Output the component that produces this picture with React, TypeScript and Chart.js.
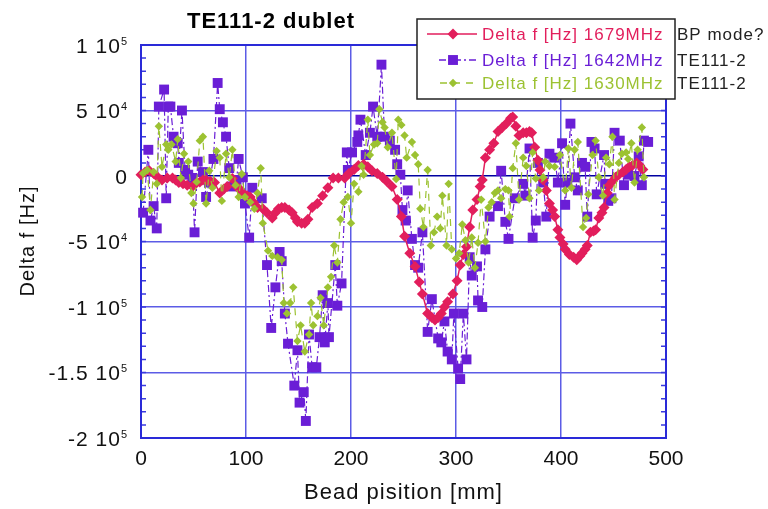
import React, { useEffect, useRef } from 'react';
import { Chart, registerables } from 'chart.js';

Chart.register(...registerables);

const FONT = '"Liberation Sans", Arial, Helvetica, sans-serif';

// tick values / labels
const xTickValues = [0, 100, 200, 300, 400, 500];
const yTickValues = [100000, 50000, 0, -50000, -100000, -150000, -200000];
const yTickMantissa = ['1 10', '5 10', '0', '-5 10', '-1 10', '-1.5 10', '-2 10'];
const yTickExponent = ['5', '4', '', '4', '5', '5', '5'];

const titleText = 'TE111-2 dublet';
const xAxisTitle = 'Bead pisition [mm]';
const yAxisTitle = 'Delta f [Hz]';

const seriesLabels = ['Delta f [Hz] 1679MHz', 'Delta f [Hz] 1642MHz', 'Delta f [Hz] 1630MHz'];
const seriesNotes = ['BP mode?', 'TE111-2', 'TE111-2'];
const seriesColors = ['#e21e5c', '#6a1ed6', '#9cc232'];

// values in kHz (i.e. 1e3 Hz), positions in mm
const redPos = [0, 4, 8, 12, 16, 20, 25, 30, 33, 36, 40, 44, 49, 52, 56, 59, 62, 66, 70, 75, 79, 82, 87, 91, 94, 97, 101, 104, 107, 111, 116, 120, 125, 128, 131, 134, 137, 141, 144, 147, 149, 153, 156, 159, 163, 168, 173, 178, 183, 188, 194, 198, 203, 207, 212, 216, 220, 225, 230, 234, 239, 244, 248, 251, 256, 261, 265, 268, 273, 277, 280, 283, 286, 289, 292, 297, 301, 304, 307, 310, 313, 316, 320, 323, 325, 328, 332, 336, 340, 344, 348, 352, 354, 357, 360, 364, 367, 370, 372, 375, 378, 380, 383, 386, 389, 392, 394, 397, 399, 402, 404, 408, 412, 415, 418, 420, 423, 425, 428, 431, 433, 436, 439, 441, 444, 446, 449, 452, 455, 459, 462, 465, 468, 472, 475, 478];
const redVal = [1, 3, 4, 2, -1, -3, -1.5, -1.5, -3, -5, -6, -7, -8, -6, -4.5, -3, -3, -4, -5, -13, -10, -8, -2, -8, -10, -13, -15, -16, -20, -24, -25, -28, -32, -28, -25, -24, -24, -26, -28, -32, -35, -36, -36, -33, -24, -21, -15, -9, -1.5, -1.5, -1.5, 2, 5, 8, 9, 7, 4, 2, -1, -4, -8, -18, -31, -46, -59, -69, -81, -90, -105, -108, -110, -108, -105, -100, -96, -90, -80, -68, -60, -54, -39, -26, -18, -8, -3, 14, 20, 25, 34, 37, 40, 44, 45, 38, 31, 33, 33, 34, 33, 22, 12, 4.6, -3, -11, -21, -26, -31, -41, -47, -52, -56, -60, -62, -64, -61, -59, -56, -53, -43, -42, -41, -32, -28, -24, -13, -7, -4, -1, 1, 3, 5, 7, 8, 10, 8, 5];

const purplePos = [2, 7, 9, 12, 15, 17, 22, 24, 26, 28, 31, 35, 36, 39, 42, 45, 49, 51, 54, 59, 62, 65, 69, 73, 75, 78, 81, 84, 87, 91, 93, 97, 99, 103, 106, 115, 120, 124, 128, 132, 134, 137, 140, 146, 149, 151, 155, 157, 160, 163, 167, 170, 173, 175, 178, 179, 185, 187, 191, 196, 197, 201, 206, 207, 209, 214, 218, 221, 225, 229, 232, 237, 242, 244, 247, 249, 252, 254, 258, 261, 264, 268, 273, 277, 283, 286, 289, 292, 296, 298, 302, 304, 307, 310, 313, 315, 320, 321, 325, 328, 332, 340, 343, 347, 350, 356, 364, 366, 370, 373, 376, 378, 383, 386, 389, 394, 397, 401, 404, 406, 409, 413, 416, 420, 423, 425, 429, 432, 434, 441, 442, 445, 448, 451, 456, 460, 464, 470, 474, 477, 479, 483];
const purpleVal = [-28, 20, -34, -23, -40, 53, 66, -17, 53, 53, 30, 25, 10, 50, 4.6, 1, -1.5, -43, 11, 3, -16, -5, 13, 71, 51, 41, 30, 6, -8, -3, 13, -1, -21, -47, -9, -17, -68, -116, -85, -58, -65, -105, -128, -160, -133, -173, -165, -187, -121, -146, -146, -123, -91, -127, -97, -123, -68, -99, -82, 18, 4.6, 18, 26, 31, 43, 16, 33, 53, 30, 85, 30, 27, 20, 9, 1, -26, -34, -11, -48, -68, -70, -43, -119, -94, -124, -127, -111, -134, -140, -105, -147, -155, -105, -140, -62, -76, -69, -95, -100, -56, -31, -23, 4, -35, -48, -17, -6, -15, 21, -47, -34, 10, -5, -31, 17, 14, -5, 25, -22, -5, 40, -1, -11, 10, 7, -31, 26, 21, -14, 16, -6, -19, -17, 33, 27, -7, 1, 0, 15, -7, 27, 26];

const greenPos = [1, 2, 6, 9, 12, 15, 17, 20, 24, 26, 29, 33, 35, 38, 41, 45, 48, 50, 53, 56, 59, 62, 65, 68, 72, 75, 77, 81, 84, 87, 90, 93, 96, 99, 104, 108, 111, 114, 116, 121, 125, 130, 134, 136, 139, 142, 145, 149, 152, 156, 160, 162, 164, 168, 171, 174, 178, 181, 184, 187, 190, 193, 197, 200, 203, 207, 210, 212, 216, 218, 222, 225, 227, 230, 232, 235, 239, 243, 245, 248, 251, 253, 258, 261, 264, 266, 269, 273, 276, 279, 282, 285, 287, 291, 293, 296, 300, 303, 306, 309, 312, 315, 318, 321, 324, 328, 331, 334, 337, 340, 343, 347, 350, 351, 354, 357, 360, 364, 367, 370, 373, 376, 379, 383, 385, 389, 394, 399, 404, 407, 410, 413, 416, 421, 424, 426, 430, 433, 436, 440, 443, 446, 449, 451, 455, 458, 462, 464, 467, 470, 473, 477, 479];
const greenVal = [-16, 2, 4.6, -26, 3, -6, 38, 7, 24, 20, 24, 11, 28, -1.5, 17, 11, -13, -21, -4.5, 27, 30, -21, 4, -9, 19, 14, -19, 17, -1, 20, -7, -16, 1.5, -16, -20, -25, -13, 6, -36, -57, -61, -62, -64, -97, -105, -97, -85, -126, -114, -134, -121, -97, -114, -107, -93, -114, -85, -77, -53, -66, -33, -20, -16, -36, -6, -12, 7.6, 1, 43, 16, 24, 25, 51, 41, 37, 22, 33, -2.3, 43, 39, 31, 14, 26, 16, 9, -25, -39, 4.6, -53, -43, -31, -40, -15, -53, -6, -56, -63, -59, -37, -49, -66, -47, -70, -51, -18, -50, -24, -20, -13, -11, -17, -10, -11, -31, 6, 25, -18, 14, 7.6, -17, 18, -2, -11, -1, 11, 7.6, 7, 16, -11, 21, -9, 20, 26, -39, -32, -14, 16, 27, -1, -15, 14, 9, 30, -18, 10, 17, 18, 13, 25, -5, 20, 37, -1];

const KHZ = 1000;

function toPoints(pos: number[], val: number[]) {
  return pos.map((x, i) => ({ x, y: val[i] * KHZ }));
}

function drawMarker(ctx: CanvasRenderingContext2D, style: string, x: number, y: number, r: number, color: string) {
  ctx.save();
  ctx.fillStyle = color;
  ctx.beginPath();
  if (style === 'rect') {
    const s = r * Math.SQRT1_2;
    ctx.rect(x - s, y - s, 2 * s, 2 * s);
  } else {
    ctx.moveTo(x, y - r);
    ctx.lineTo(x + r, y);
    ctx.lineTo(x, y + r);
    ctx.lineTo(x - r, y);
    ctx.closePath();
  }
  ctx.fill();
  ctx.restore();
}

const decor = {
  id: 'decor',
  beforeDatasetsDraw(chart: any) {
    const { ctx, chartArea } = chart;
    const ys = chart.scales.y;
    ctx.save();
    ctx.strokeStyle = '#3a3ae0';
    ctx.lineWidth = 1.5;
    for (let v = ys.min; v <= ys.max; v += 10000) {
      const py = ys.getPixelForValue(v);
      ctx.beginPath();
      ctx.moveTo(chartArea.left, py);
      ctx.lineTo(chartArea.left + 5, py);
      ctx.moveTo(chartArea.right, py);
      ctx.lineTo(chartArea.right - 5, py);
      ctx.stroke();
    }
    ctx.strokeStyle = '#2a2ad8';
    ctx.lineWidth = 2;
    ctx.strokeRect(chartArea.left, chartArea.top, chartArea.right - chartArea.left, chartArea.bottom - chartArea.top);
    ctx.restore();
  },
  afterDraw(chart: any) {
    const { ctx, chartArea } = chart;
    const ys = chart.scales.y;
    ctx.save();
    (ctx as any).letterSpacing = '1px';

    ctx.fillStyle = '#111';
    ctx.textBaseline = 'alphabetic';
    yTickValues.forEach((v, i) => {
      const py = ys.getPixelForValue(v);
      const right = chartArea.left - 13;
      ctx.font = `11px ${FONT}`;
      const expW = yTickExponent[i] ? ctx.measureText(yTickExponent[i]).width : 0;
      ctx.font = `21px ${FONT}`;
      const mant = yTickMantissa[i];
      const mw = ctx.measureText(mant).width;
      const base = py + 7.5;
      ctx.textAlign = 'left';
      ctx.fillText(mant, right - expW - mw, base);
      if (yTickExponent[i]) {
        ctx.font = `11px ${FONT}`;
        ctx.fillText(yTickExponent[i], right - expW, base - 8);
      }
    });

    ctx.font = `bold 22px ${FONT}`;
    ctx.textAlign = 'center';
    ctx.textBaseline = 'middle';
    ctx.fillStyle = '#000';
    ctx.fillText(titleText, 271, 22);

    ctx.font = `22px ${FONT}`;
    ctx.fillStyle = '#111';
    ctx.fillText(xAxisTitle, (chartArea.left + chartArea.right) / 2, 493);

    ctx.save();
    ctx.translate(28, 241);
    ctx.rotate(-Math.PI / 2);
    ctx.font = `20px ${FONT}`;
    ctx.fillText(yAxisTitle, 0, 0);
    ctx.restore();

    ctx.fillStyle = '#fff';
    ctx.fillRect(417, 19, 258, 80);
    ctx.strokeStyle = '#222';
    ctx.lineWidth = 1.5;
    ctx.strokeRect(417, 19, 258, 80);

    const rows = [34, 60, 83];
    const dashes = [[], [7, 3, 2, 3], [7, 6]];
    const starts = [427, 439, 440];
    const markers = ['rectRot', 'rect', 'rectRot'];
    const radii = [5.5, 7, 4.2];
    rows.forEach((ry, i) => {
      ctx.save();
      ctx.strokeStyle = seriesColors[i];
      ctx.lineWidth = 1.5;
      ctx.setLineDash(dashes[i]);
      ctx.beginPath();
      ctx.moveTo(starts[i], ry);
      ctx.lineTo(477, ry);
      ctx.stroke();
      ctx.restore();
      drawMarker(ctx, markers[i], 453, ry, radii[i], seriesColors[i]);
      ctx.font = `17px ${FONT}`;
      ctx.textAlign = 'left';
      ctx.textBaseline = 'middle';
      ctx.fillStyle = seriesColors[i];
      ctx.fillText(seriesLabels[i], 482, ry + 1);
      ctx.fillStyle = '#222';
      ctx.fillText(seriesNotes[i], 677, ry + 1);
    });
    ctx.restore();
  },
};

export default function App() {
  const ref = useRef<HTMLCanvasElement>(null);
  useEffect(() => {
    const gridColor = '#5c5ce6';
    const chart = new Chart(ref.current as HTMLCanvasElement, {
      type: 'scatter',
      data: {
        datasets: [
          {
            label: seriesLabels[0],
            data: toPoints(redPos, redVal),
            showLine: true,
            borderColor: seriesColors[0],
            backgroundColor: seriesColors[0],
            borderWidth: 1.5,
            pointStyle: 'rectRot',
            pointRadius: 5.5,
            pointBorderWidth: 0,
            order: 1,
            clip: false,
          },
          {
            label: seriesLabels[1],
            data: toPoints(purplePos, purpleVal),
            showLine: true,
            borderColor: seriesColors[1],
            backgroundColor: seriesColors[1],
            borderWidth: 1.2,
            borderDash: [7, 3, 2, 3],
            pointStyle: 'rect',
            pointRadius: 7,
            pointBorderWidth: 0,
            order: 2,
            clip: false,
          },
          {
            label: seriesLabels[2],
            data: toPoints(greenPos, greenVal),
            showLine: true,
            borderColor: seriesColors[2],
            backgroundColor: seriesColors[2],
            borderWidth: 1.2,
            borderDash: [7, 6],
            pointStyle: 'rectRot',
            pointRadius: 4.2,
            pointBorderWidth: 0,
            order: 0,
            clip: false,
          },
        ] as any,
      },
      options: {
        responsive: false,
        animation: false,
        devicePixelRatio: 1,
        layout: { padding: { top: 45, right: 102, left: 0, bottom: 0 } },
        plugins: {
          legend: { display: false },
          title: { display: false },
          tooltip: { enabled: false },
        },
        scales: {
          x: {
            type: 'linear',
            min: 0,
            max: 500,
            afterBuildTicks: (s: any) => {
              s.ticks = xTickValues.map((value) => ({ value }));
            },
            ticks: {
              color: '#111',
              font: { family: FONT, size: 21 },
              padding: 9,
              maxRotation: 0,
            },
            grid: { color: gridColor, lineWidth: 1.5, drawTicks: false },
            border: { display: false },
            afterFit: (s: any) => {
              s.height = 71;
            },
          },
          y: {
            type: 'linear',
            min: -200000,
            max: 100000,
            afterBuildTicks: (s: any) => {
              s.ticks = yTickValues.slice().reverse().map((value) => ({ value }));
            },
            ticks: { display: false },
            grid: {
              color: (c: any) => (c.tick && c.tick.value === 0 ? '#0000a0' : gridColor),
              lineWidth: 1.5,
              drawTicks: false,
            },
            border: { display: false },
            afterFit: (s: any) => {
              s.width = 141;
            },
          },
        },
      } as any,
      plugins: [decor as any],
    });
    return () => chart.destroy();
  }, []);
  return (
    <div style={{ position: 'absolute', left: 0, top: 0, width: 768, height: 509, background: '#fff' }}>
      <canvas ref={ref} width={768} height={509} style={{ display: 'block' }} />
    </div>
  );
}
